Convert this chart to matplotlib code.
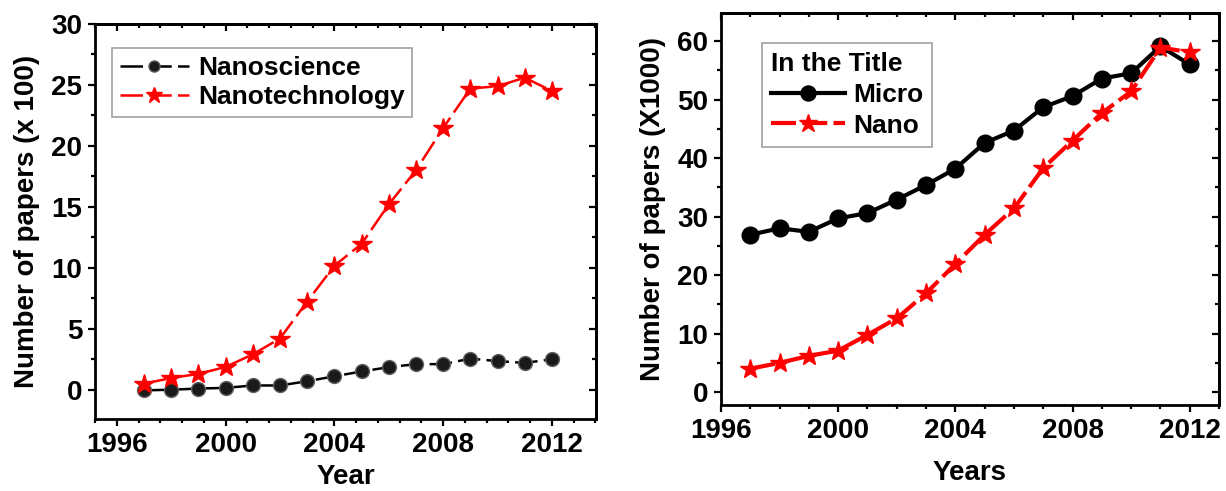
import matplotlib.pyplot as plt
from matplotlib.ticker import MultipleLocator
import numpy as np

plt.rcParams['font.family'] = ['Liberation Sans', 'DejaVu Sans']
plt.rcParams['font.weight'] = 'bold'

years = np.arange(1997, 2013)

# left panel, number of papers (x 100)
nanoscience = [-0.05, 0.0, 0.1, 0.15, 0.35, 0.35, 0.7, 1.1, 1.5, 1.85, 2.1, 2.1, 2.55, 2.35, 2.2, 2.5]
nanotechnology = [0.5, 0.96, 1.3, 1.87, 2.9, 4.2, 7.23, 10.17, 11.96, 15.2, 18.0, 21.47, 24.7, 24.9, 25.6, 24.5]

# right panel, number of papers (x 1000), keyword in the title
micro = [26.9, 28.0, 27.4, 29.7, 30.6, 32.9, 35.4, 38.2, 42.6, 44.7, 48.7, 50.6, 53.6, 54.5, 59.1, 56.0]
nano = [4.0, 5.0, 6.2, 7.1, 9.8, 12.6, 16.9, 21.9, 26.9, 31.4, 38.3, 43.0, 47.7, 51.4, 58.9, 58.1]

RED = '#ff0000'
W, H = 1226, 491


def style_axes(ax, xminor, yminor, ymajor):
    for s in ax.spines.values():
        s.set_linewidth(2)
    ax.xaxis.set_major_locator(MultipleLocator(4))
    ax.xaxis.set_minor_locator(MultipleLocator(xminor))
    ax.yaxis.set_major_locator(MultipleLocator(ymajor))
    ax.yaxis.set_minor_locator(MultipleLocator(yminor))
    ax.tick_params(which='major', direction='out', length=5, width=1.6, labelsize=20, pad=4)
    ax.tick_params(which='minor', direction='out', length=3, width=1.6)
    # Origin style: inward ticks on the top and right side
    top = ax.secondary_xaxis('top')
    top.xaxis.set_major_locator(MultipleLocator(4))
    top.xaxis.set_minor_locator(MultipleLocator(xminor))
    top.tick_params(which='major', direction='in', length=5, width=1.6, labeltop=False)
    top.tick_params(which='minor', direction='in', length=3, width=1.6)
    right = ax.secondary_yaxis('right')
    right.yaxis.set_major_locator(MultipleLocator(ymajor))
    right.yaxis.set_minor_locator(MultipleLocator(yminor))
    right.tick_params(which='major', direction='in', length=5, width=1.6, labelright=False)
    right.tick_params(which='minor', direction='in', length=3, width=1.6)
    for sec in (top, right):
        for s in sec.spines.values():
            s.set_linewidth(2)


fig = plt.figure(figsize=(W / 100, H / 100), dpi=100)

# ---- left panel
ax1 = fig.add_axes([95 / W, 1 - 419 / H, (596 - 95) / W, (419 - 24) / H])
ax1.plot(years, nanoscience, color='black', lw=1.8, dashes=(9, 2.5),
         marker='o', ms=10, mfc='#1a1a1a', mec='#606060', mew=1, label='Nanoscience')
ax1.plot(years, nanotechnology, color=RED, lw=1.8, dashes=(9, 2.5),
         marker='*', ms=15, mfc=RED, mec=RED, label='Nanotechnology')
ax1.set_xlim(1995.2, 2013.62)
ax1.set_ylim(-2.4, 30)
style_axes(ax1, 0.8, 2.5, 5)
ax1.set_xlabel('Year', fontsize=20, fontweight='bold', labelpad=5)
ax1.set_ylabel('Number of papers (x 100)', fontsize=20, fontweight='bold', labelpad=8)
leg1 = ax1.legend(loc='upper left', bbox_to_anchor=(0.034, 0.939), borderaxespad=0,
                  fontsize=19, frameon=True, fancybox=False, edgecolor='#888888',
                  handlelength=2.6, handletextpad=0.35, borderpad=0.3, labelspacing=0.2,
                  markerscale=0.8)
leg1.get_frame().set_linewidth(1.2)

# ---- right panel
ax2 = fig.add_axes([721 / W, 1 - 405 / H, (1219 - 721) / W, (405 - 13) / H])
ax2.plot(years, micro, color='black', lw=3, marker='o', ms=12, mfc='black', mec='black',
         label='Micro')
ax2.plot(years, nano, color=RED, lw=3, dashes=(6, 1.5), marker='*', ms=15, mfc=RED, mec=RED,
         label='Nano')
ax2.set_xlim(1996, 2013)
ax2.set_ylim(-2.2, 64.8)
style_axes(ax2, 1, 5, 10)
ax2.set_xlabel('Years', fontsize=20, fontweight='bold', labelpad=12)
ax2.set_ylabel('Number of papers (X1000)', fontsize=20, fontweight='bold', labelpad=8)
leg2 = ax2.legend(loc='upper left', bbox_to_anchor=(0.082, 0.923), borderaxespad=0,
                  title='In the Title', fontsize=19, title_fontproperties={'weight': 'bold', 'size': 19},
                  alignment='left', frameon=True, fancybox=False, edgecolor='#888888',
                  handlelength=2.8, handletextpad=0.3, borderpad=0.35, labelspacing=0.25,
                  markerscale=0.9)
leg2.get_frame().set_linewidth(1.2)

fig.savefig('out.png', dpi=100)
